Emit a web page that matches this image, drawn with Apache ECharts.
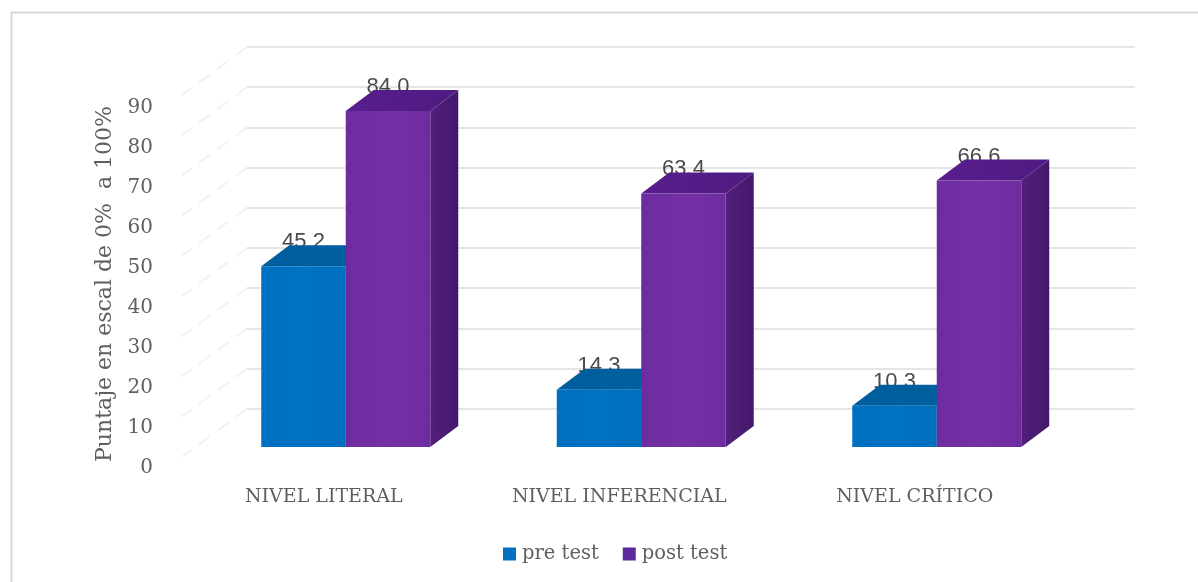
<!DOCTYPE html>
<html>
<head>
<meta charset="utf-8">
<style>html,body{margin:0;padding:0;background:#fff}#c{width:1198px;height:582px}</style>
<script src="https://cdn.jsdelivr.net/npm/echarts@6/dist/echarts.min.js"></script>
</head>
<body>
<div id="c"></div>
<script>
const categories = ['NIVEL LITERAL', 'NIVEL INFERENCIAL', 'NIVEL CRÍTICO'];
const preTest = [45.2, 14.3, 10.3];
const postTest = [84.0, 63.4, 66.6];
const wallTicks = [10, 20, 30, 40, 50, 60, 70, 80, 90, 100];

const SERIF = '"DejaVu Serif"';
const TEXT = '#5f5f5f';
const DEPTH_X = 28, DEPTH_Y = 21, BAR_W = 84.5;

function bar3d(side, cols) {
  return function (params, api) {
    const v = api.value(1);
    const p = api.coord([api.value(0), v]);
    const b = api.coord([api.value(0), 0]);
    const x0 = side < 0 ? p[0] - BAR_W : p[0];
    const x1 = x0 + BAR_W;
    const top = p[1], bot = b[1];
    const h = (stops) => ({type: 'linear', x: 0, y: 0, x2: 1, y2: 0,
      colorStops: stops.map((c, i) => ({offset: i / (stops.length - 1), color: c}))});
    return {
      type: 'group',
      children: [
        {type: 'text', style: {text: v.toFixed(1), x: (x0 + x1) / 2, y: top - 24, align: 'center', verticalAlign: 'middle',
          font: '22px "Liberation Sans"', fill: '#4a4a4a'}},
        {type: 'polygon', shape: {points: [[x1, top], [x1 + DEPTH_X, top - DEPTH_Y], [x1 + DEPTH_X, bot - DEPTH_Y], [x1, bot]]},
          style: {fill: h(cols.side)}},
        {type: 'polygon', shape: {points: [[x0, top], [x0 + DEPTH_X, top - DEPTH_Y], [x1 + DEPTH_X, top - DEPTH_Y], [x1, top]]},
          style: {fill: h(cols.top)}},
        {type: 'rect', shape: {x: x0, y: top, width: BAR_W, height: bot - top},
          style: {fill: h(cols.front)}}
      ]
    };
  };
}

const BLUE = {front: ['#0070c0', '#0072c4', '#006fbd'], top: ['#005d9e', '#00609f'], side: ['#005a9c', '#004f88']};
const PURPLE = {front: ['#6c2ca0', '#7530a6', '#6e2c9f'], top: ['#5a1e8e', '#4e1a80'], side: ['#52207c', '#43186a']};

const chart = echarts.init(document.getElementById('c'), null, {renderer: 'canvas'});
chart.setOption({
  animation: false,
  backgroundColor: '#fff',
  graphic: [{type: 'polyline', silent: true, shape: {points: [[11.5, 582], [11.5, 12.5], [1198, 12.5]]},
    style: {stroke: '#d8d8d8', lineWidth: 2, fill: null}}],
  grid: [
    {left: 247, width: 888, top: 47, height: 402},
    {left: 198, width: 886.5, top: 47, height: 400},
    {left: 176, width: 886.5, top: 68, height: 400}
  ],
  xAxis: [
    {gridIndex: 0, type: 'value', min: 0, max: 1, show: false},
    {gridIndex: 1, type: 'category', data: categories, show: false},
    {gridIndex: 2, type: 'category', data: categories,
      axisLine: {show: false}, axisTick: {show: false},
      axisLabel: {color: TEXT, fontFamily: SERIF, fontSize: 19, margin: 20}}
  ],
  yAxis: [
    {gridIndex: 0, type: 'value', min: 0, max: 100, interval: 10,
      axisLine: {show: false}, axisTick: {show: false}, axisLabel: {show: false},
      splitLine: {show: true, showMinLine: false, lineStyle: {color: '#dcdcdc', width: 1.5}}},
    {gridIndex: 1, type: 'value', min: 0, max: 100, interval: 10, show: false, splitLine: {show: false}},
    {gridIndex: 2, type: 'value', min: 0, max: 100, interval: 10,
      axisLine: {show: false}, axisTick: {show: false}, splitLine: {show: false},
      axisLabel: {showMaxLabel: false, color: TEXT, fontFamily: SERIF, fontSize: 20, margin: 23},
      name: 'Puntaje en escal de 0%  a 100%', nameLocation: 'middle', nameRotate: 90, nameGap: 59,
      nameTextStyle: {color: TEXT, fontFamily: SERIF, fontSize: 22, padding: [0, 32, 0, 0]}}
  ],
  legend: {
    data: ['pre test', 'post test'], left: 503, top: 544, padding: 0, icon: 'rect', itemWidth: 13, itemHeight: 13, itemGap: 24,
    textStyle: {color: TEXT, fontFamily: SERIF, fontSize: 19.5, padding: [0, 0, 0, 1]}
  },
  series: [
    {type: 'custom', name: 'wall', xAxisIndex: 0, yAxisIndex: 0, silent: true,
      data: wallTicks.map(t => [0, t]),
      renderItem: (params, api) => {
        const p = api.coord([api.value(0), api.value(1)]);
        return {type: 'line', shape: {x1: p[0], y1: p[1], x2: p[0] - 65, y2: p[1] + 48},
          style: {stroke: '#f2f2f2', lineWidth: 2, lineDash: [14, 9]}};
      }},
    {type: 'custom', name: 'pre test', xAxisIndex: 1, yAxisIndex: 1, itemStyle: {color: '#0070c0'},
      data: preTest.map((v, i) => [i, v]), renderItem: bar3d(-1, BLUE)},
    {type: 'custom', name: 'post test', xAxisIndex: 1, yAxisIndex: 1, itemStyle: {color: '#5b2a9d'},
      data: postTest.map((v, i) => [i, v]), renderItem: bar3d(1, PURPLE)}
  ]
});
</script>
</body>
</html>
